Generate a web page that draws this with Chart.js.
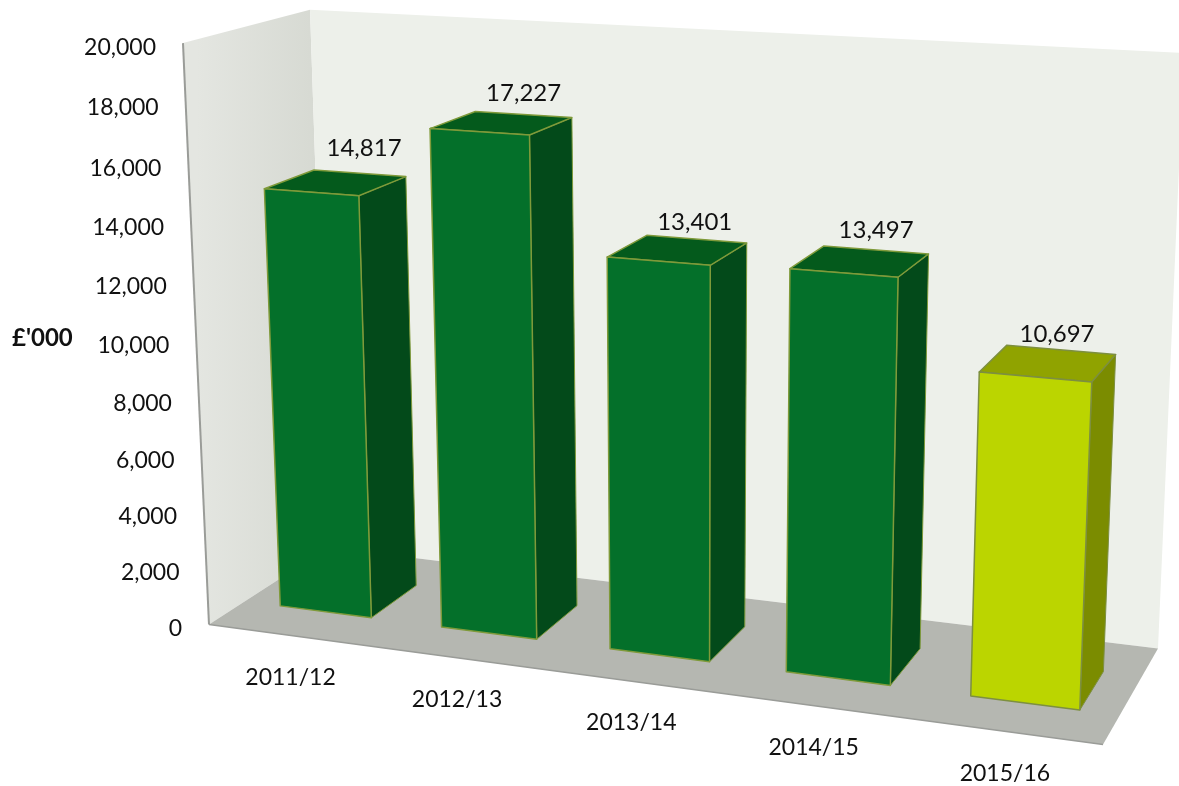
<!DOCTYPE html>
<html>
<head>
<meta charset="utf-8">
<title>Annual spend</title>
<script src="https://cdn.jsdelivr.net/npm/chart.js@4"></script>
<style>
  html, body { margin: 0; padding: 0; background: #fff; }
  canvas { display: block; }
</style>
</head>
<body>
<canvas id="chart" width="1179" height="786"></canvas>
<script>
const categories = ['2011/12', '2012/13', '2013/14', '2014/15', '2015/16'];
const spend = [14817, 17227, 13401, 13497, 10697];
const axisTitle = "£'000";
const axisMin = 0;
const axisMax = 20000;
const axisStep = 2000;

const FONT = 'Lato, "Open Sans", sans-serif';
const BAR_DEPTH = { front: 0.285, back: 0.69 };
const BAR_SHIFT = 0.002;
const GREEN = { front: '#04702a', side: '#034a1a', top: '#045a1c', edge: '#7f9a3a' };
const LIME = { front: '#bbd500', side: '#7b8c00', top: '#90a300', edge: '#7d8f40' };
const barPalette = [GREEN, GREEN, GREEN, GREEN, LIME];
// Screen offsets of the value labels from the back of each bar's top.
const VALUE_LABEL_OFFSET = [[6, -25], [2, -21], [0, -17], [2, -20], [-2, -15]];

// Corners of the plot box as seen by the camera: [X, Y, Z, screenX, screenY].
const BOX_CORNERS = [
  [0, 0, 0, 209, 625], [0, 1, 0, 183, 43],
  [0, 0, 1, 328, 547], [0, 1, 1, 310, 10],
  [1, 0, 0, 1103, 744], [1, 0, 1, 1158, 649],
  [1, 1, 1, 1184, 53]
];

// Least-squares camera matrix (p34 = 1) fitted through the box corners.
function fitCamera(points) {
  const rows = [], rhs = [];
  for (const [X, Y, Z, px, py] of points) {
    const u = px / 1000, v = py / 1000;
    rows.push([X, Y, Z, 1, 0, 0, 0, 0, -u * X, -u * Y, -u * Z]); rhs.push(u);
    rows.push([0, 0, 0, 0, X, Y, Z, 1, -v * X, -v * Y, -v * Z]); rhs.push(v);
  }
  const n = 11;
  const A = Array.from({ length: n }, (_, i) => {
    const line = Array.from({ length: n }, (_, j) =>
      rows.reduce((sum, r) => sum + r[i] * r[j], 0));
    line.push(rows.reduce((sum, r, k) => sum + r[i] * rhs[k], 0));
    return line;
  });
  for (let c = 0; c < n; c++) {
    let pivot = c;
    for (let r = c + 1; r < n; r++) if (Math.abs(A[r][c]) > Math.abs(A[pivot][c])) pivot = r;
    [A[c], A[pivot]] = [A[pivot], A[c]];
    for (let r = 0; r < n; r++) {
      if (r === c) continue;
      const f = A[r][c] / A[c][c];
      for (let k = c; k <= n; k++) A[r][k] -= f * A[c][k];
    }
  }
  return A.map((line, i) => line[n] / line[i]);
}

const cam = fitCamera(BOX_CORNERS);
function project(X, Y, Z) {
  const w = cam[8] * X + cam[9] * Y + cam[10] * Z + 1;
  return [
    1000 * (cam[0] * X + cam[1] * Y + cam[2] * Z + cam[3]) / w,
    1000 * (cam[4] * X + cam[5] * Y + cam[6] * Z + cam[7]) / w
  ];
}

function face(ctx, pts, fill, edge, lineWidth) {
  ctx.beginPath();
  pts.forEach((p, i) => (i ? ctx.lineTo(p[0], p[1]) : ctx.moveTo(p[0], p[1])));
  ctx.closePath();
  if (fill) { ctx.fillStyle = fill; ctx.fill(); }
  if (edge) { ctx.strokeStyle = edge; ctx.lineWidth = lineWidth || 1; ctx.lineJoin = 'round'; ctx.stroke(); }
}

function drawRoom(ctx) {
  const wallStart = project(0, 0.5, 0), wallEnd = project(0, 0.5, 1);
  const wallShade = ctx.createLinearGradient(wallStart[0], 0, wallEnd[0], 0);
  wallShade.addColorStop(0, '#e4e6e1');
  wallShade.addColorStop(1, '#d6d9d2');
  face(ctx, [project(0, 0, 0), project(0, 1, 0), project(0, 1, 1), project(0, 0, 1)], wallShade);
  face(ctx, [project(0, 0, 1), project(0, 1, 1), project(1, 1, 1), project(1, 0, 1)], '#edf0ea');
  face(ctx, [project(0, 0, 0), project(0, 0, 1), project(1, 0, 1), project(1, 0, 0)], '#b5b7b1');
  // Axis edges along the front of the wall and the floor.
  const axisLine = (a, b, width) => {
    ctx.beginPath();
    ctx.moveTo(a[0], a[1]);
    ctx.lineTo(b[0], b[1]);
    ctx.strokeStyle = '#9a9c98';
    ctx.lineWidth = width;
    ctx.stroke();
  };
  axisLine(project(0, 0, 0), project(0, 1, 0), 2);
  axisLine(project(0, 0, 0), project(1, 0, 0), 1.5);
}

const perspectiveBars = {
  id: 'perspectiveBars',
  beforeDatasetsDraw(chart) {
    const { ctx, chartArea: area, scales } = chart;
    const toX = px => (px - area.left) / area.width;
    const toY = py => (area.bottom - py) / area.height;
    ctx.save();
    drawRoom(ctx);

    // Bars come from the elements laid out by the bar controller.
    const bars = chart.getDatasetMeta(0).data;
    bars.forEach((bar, i) => {
      const x0 = toX(bar.x - bar.width / 2) + BAR_SHIFT, x1 = toX(bar.x + bar.width / 2) + BAR_SHIFT;
      const h = toY(bar.y), z0 = BAR_DEPTH.front, z1 = BAR_DEPTH.back;
      const c = barPalette[i];
      face(ctx, [project(x1, 0, z0), project(x1, h, z0), project(x1, h, z1), project(x1, 0, z1)], c.side, c.edge, 1);
      face(ctx, [project(x0, h, z0), project(x0, h, z1), project(x1, h, z1), project(x1, h, z0)], c.top, c.edge, 1.5);
      face(ctx, [project(x0, 0, z0), project(x0, h, z0), project(x1, h, z0), project(x1, 0, z0)], c.front, c.edge, 1.5);
    });

    // Text: value labels, then both axes.
    ctx.fillStyle = '#111';
    ctx.textBaseline = 'middle';
    ctx.font = '24px ' + FONT;
    ctx.textAlign = 'center';
    bars.forEach((bar, i) => {
      const p = project(toX(bar.x), toY(bar.y), BAR_DEPTH.back);
      const [dx, dy] = VALUE_LABEL_OFFSET[i];
      ctx.fillText(spend[i].toLocaleString('en-GB'), p[0] + dx, p[1] + dy);
    });
    ctx.font = '23px ' + FONT;
    ctx.textAlign = 'right';
    scales.y.ticks.forEach(tick => {
      const p = project(0, toY(scales.y.getPixelForValue(tick.value)), 0);
      ctx.fillText(tick.value.toLocaleString('en-GB'), p[0] - 27, p[1] + 4);
    });
    ctx.textAlign = 'center';
    categories.forEach((name, i) => {
      const p = project(toX(scales.x.getPixelForValue(i)), 0, 0);
      ctx.fillText(name, p[0] + 1, p[1] + 42);
    });
    ctx.font = 'bold 24px ' + FONT;
    ctx.textAlign = 'left';
    ctx.fillText(axisTitle, 12, 338);
    ctx.restore();
    return false;
  }
};

new Chart(document.getElementById('chart'), {
  type: 'bar',
  data: {
    labels: categories,
    datasets: [{ label: axisTitle, data: spend, backgroundColor: barPalette.map(c => c.front), barPercentage: 0.57, categoryPercentage: 1 }]
  },
  options: {
    responsive: false,
    animation: false,
    layout: { padding: 0 },
    plugins: { legend: { display: false }, tooltip: { enabled: false } },
    scales: {
      x: { display: false },
      y: { display: false, min: axisMin, max: axisMax, ticks: { stepSize: axisStep } }
    }
  },
  plugins: [perspectiveBars]
});
</script>
</body>
</html>
